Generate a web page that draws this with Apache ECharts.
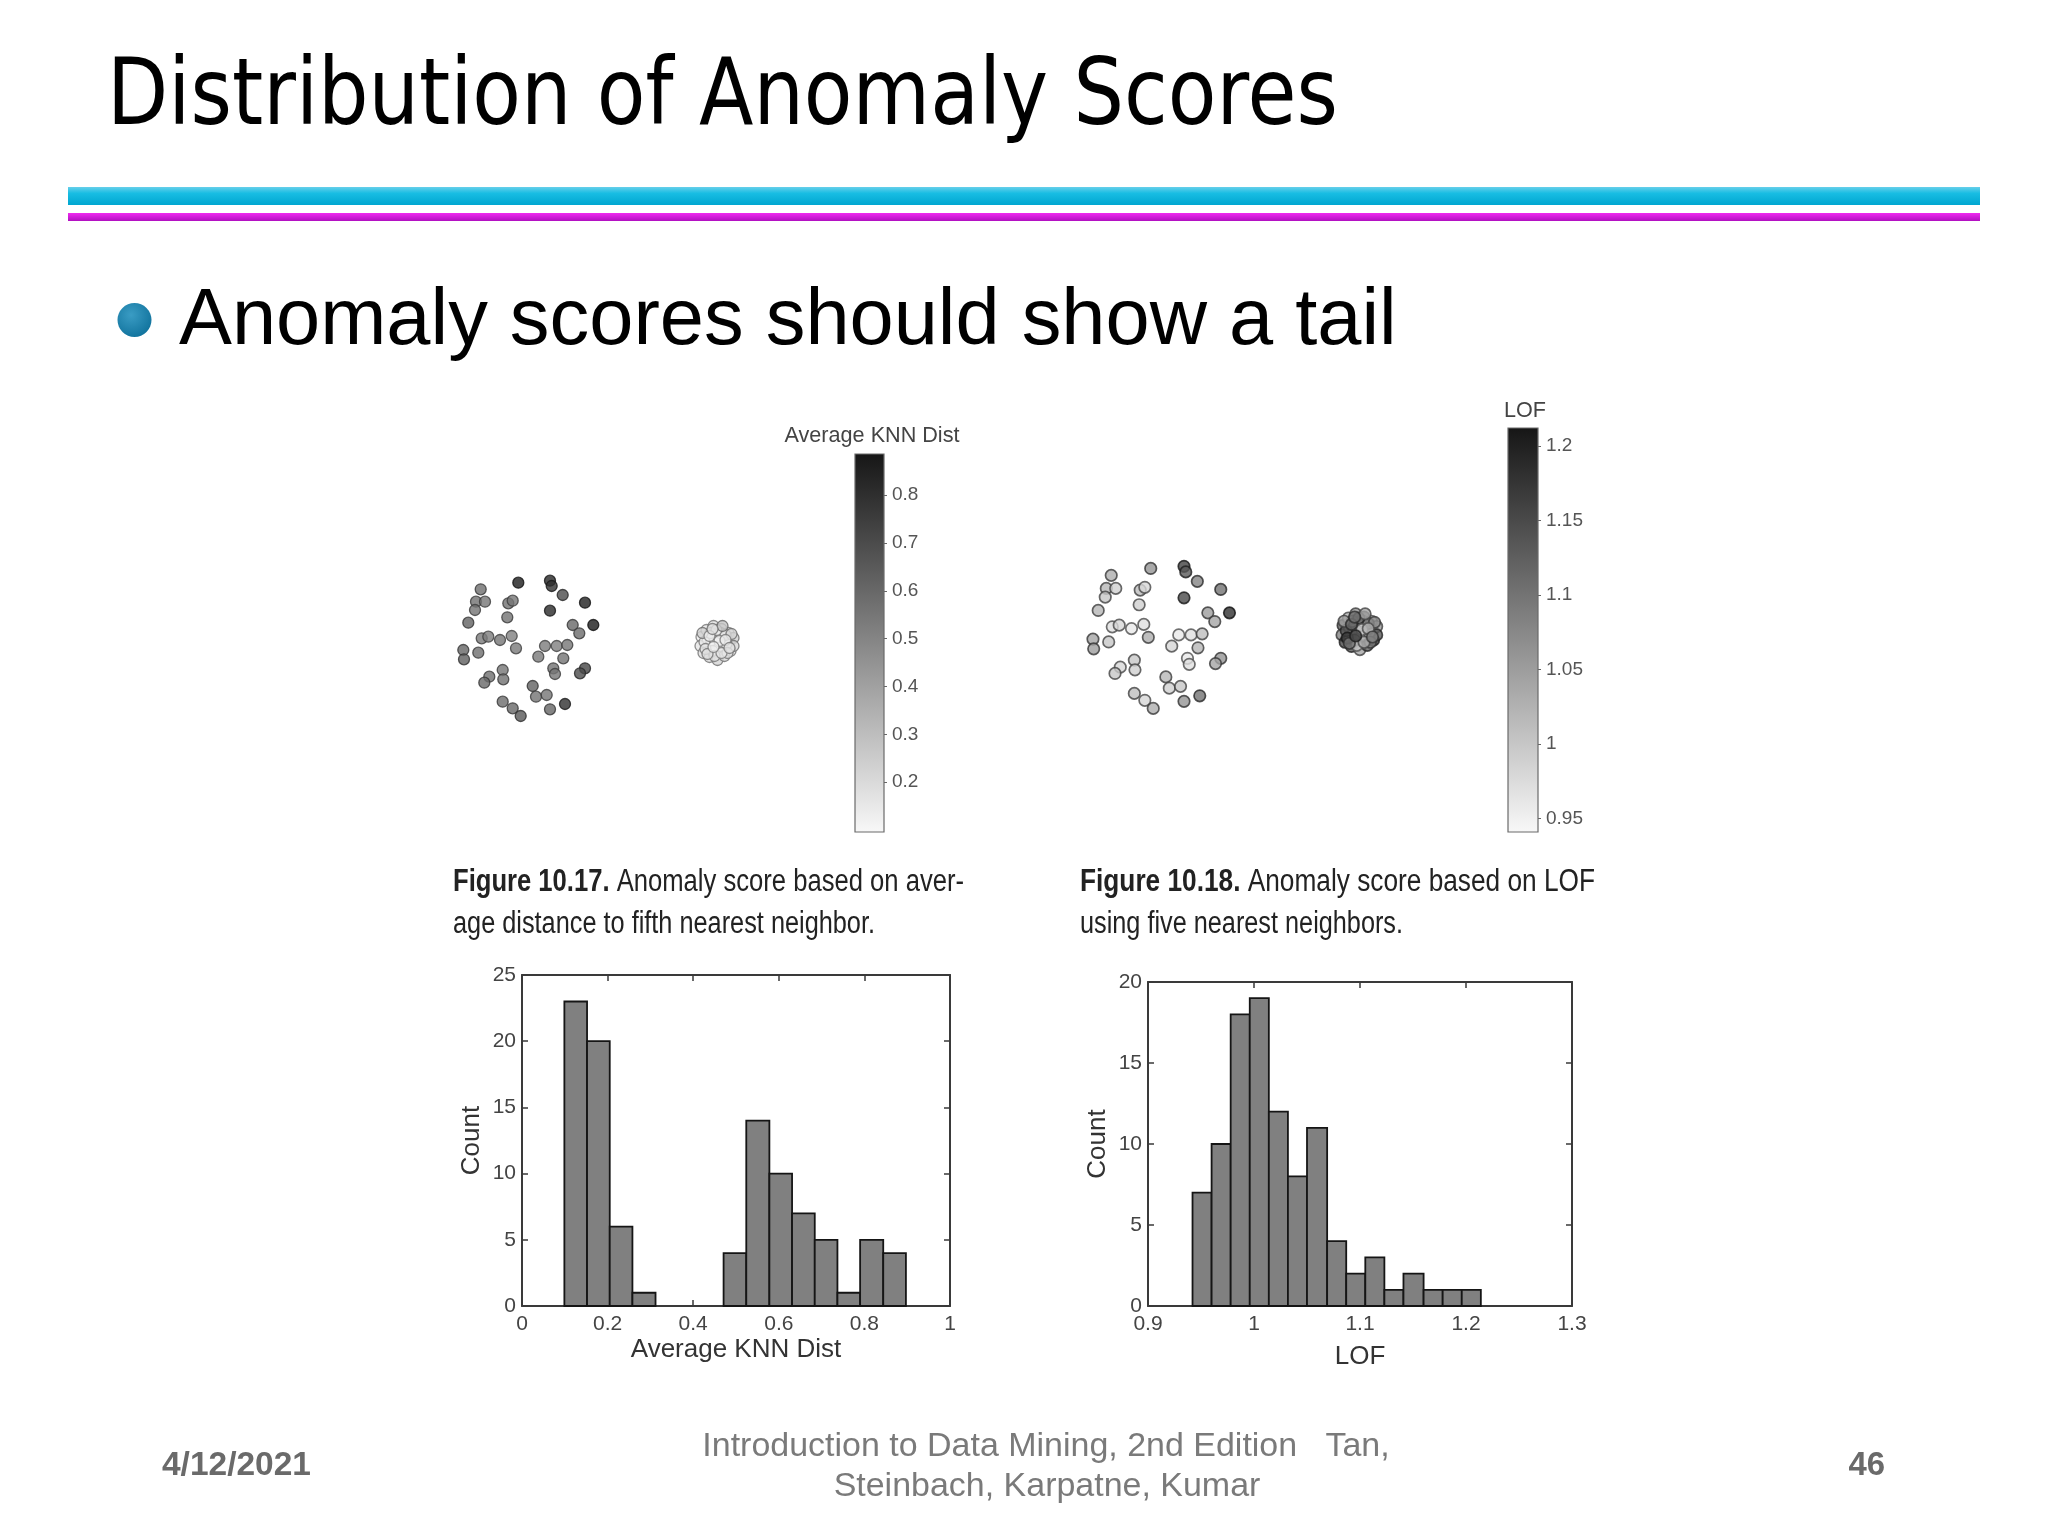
<!DOCTYPE html>
<html><head><meta charset="utf-8">
<script src="https://cdn.jsdelivr.net/npm/echarts@6/dist/echarts.min.js"></script>
<style>html,body{margin:0;padding:0;background:#fff}#c{width:2048px;height:1536px}</style>
</head><body><div id="c"></div>
<script>
// ---------------- DATA ----------------
// sparse cluster points (abstract plot units)
const sparseX = [6.83,10.00,10.17,11.27,13.50,10.00,14.33,3.07,2.60,3.50,2.50,5.83,6.27,5.73,1.83,12.27,12.93,3.17,3.83,5.00,6.17,6.60,1.33,1.40,2.83,9.50,8.83,10.67,11.73,11.33,10.33,10.50,13.50,13.00,5.27,5.33,3.93,3.43,8.27,8.60,9.67,5.27,6.27,7.07,10.00,11.50];
const sparseY = [15.73,15.93,15.40,14.50,13.73,12.93,11.50,15.07,13.83,13.83,13.00,13.67,13.93,12.27,11.73,11.50,10.67,10.17,10.33,10.00,10.40,9.17,9.00,8.07,8.73,9.40,8.33,9.40,9.50,8.17,7.17,6.60,7.17,6.67,7.00,6.07,6.33,5.73,5.40,4.33,4.50,3.83,3.17,2.40,3.07,3.60];
const sparseKnn = [0.86,0.83,0.80,0.70,0.85,0.82,0.87,0.58,0.57,0.55,0.56,0.57,0.55,0.56,0.62,0.60,0.59,0.54,0.53,0.55,0.52,0.54,0.61,0.63,0.58,0.53,0.54,0.52,0.55,0.56,0.57,0.55,0.72,0.70,0.55,0.57,0.58,0.60,0.62,0.56,0.55,0.59,0.60,0.66,0.61,0.80];
const sparseLof = [1.06,1.16,1.13,1.08,1.10,1.15,1.18,1.03,1.02,0.99,1.00,1.01,0.98,0.99,1.02,1.05,1.04,0.97,0.98,0.96,0.97,1.03,1.04,1.05,1.00,0.96,0.98,0.97,1.01,1.02,0.96,0.97,1.06,1.04,1.00,0.99,0.98,1.00,1.02,0.99,1.00,1.01,0.98,1.03,1.06,1.10];
// dense cluster points
const denseX = [25.15,25.05,25.35,25.65,25.75,25.85,25.95,26.35,26.45,26.55,26.65,26.75,27.15,27.25,27.35,27.45,27.85,27.95,28.05,28.35,28.35,26.15,26.95,26.85,26.25,27.65,25.45,27.05,26.05,27.55,26.45,27.75,25.55,27.15,25.75,28.15,26.65,25.25,26.95,26.35,27.55,27.95,25.95,27.25,26.25];
const denseY = [10.3,9.4,8.7,11.0,10.1,9.2,8.3,11.4,10.6,9.7,8.8,8.0,11.1,10.2,9.3,8.4,10.7,9.8,8.9,10.2,9.4,9.9,9.4,10.3,8.9,9.6,9.8,10.7,10.7,10.5,8.4,8.7,9.1,8.7,8.6,10.6,11.0,10.7,9.9,9.3,10.0,9.2,10.4,11.4,11.1];
const denseKnn = [0.13,0.16,0.18,0.15,0.12,0.14,0.19,0.17,0.12,0.11,0.13,0.22,0.15,0.12,0.14,0.20,0.16,0.13,0.18,0.24,0.21,0.12,0.11,0.13,0.15,0.14,0.14,0.13,0.15,0.16,0.17,0.19,0.16,0.15,0.18,0.22,0.14,0.23,0.11,0.12,0.14,0.17,0.13,0.27,0.18];
const denseLof = [1.12,1.08,1.15,1.02,1.10,0.99,1.13,1.06,1.00,1.09,1.14,1.04,1.11,0.98,1.07,1.12,1.01,1.10,1.16,1.05,1.13,1.09,0.97,1.02,1.12,1.08,1.14,0.99,1.06,1.11,1.00,1.09,1.17,1.03,1.10,1.07,1.13,1.05,1.00,1.15,1.02,1.08,1.12,1.04,1.10];

// colorbar ranges and ticks
const knnBarRange = [0.096, 0.886];
const knnBarTicks = [0.2,0.3,0.4,0.5,0.6,0.7,0.8];
const lofBarRange = [0.941, 1.212];
const lofBarTicks = [0.95,1,1.05,1.1,1.15,1.2];

// histograms
const knnEdges = [0.099,0.152,0.205,0.258,0.312,0.365,0.418,0.471,0.524,0.578,0.631,0.684,0.737,0.790,0.844,0.897];
const knnCounts = [23,20,6,1,0,0,0,4,14,10,7,5,1,5,4];
const lofEdges = [0.942,0.960,0.978,0.996,1.014,1.032,1.050,1.069,1.087,1.105,1.123,1.141,1.160,1.178,1.196,1.214];
const lofCounts = [7,10,18,19,12,8,11,4,2,3,1,2,1,1,1];

// texts
const titleText = 'Distribution of Anomaly Scores';
const bulletText = 'Anomaly scores should show a tail';
const cap1a = 'Figure 10.17.', cap1b = ' Anomaly score based on aver-', cap1c = 'age distance to fifth nearest neighbor.';
const cap2a = 'Figure 10.18.', cap2b = ' Anomaly score based on LOF', cap2c = 'using five nearest neighbors.';
const footDate = '4/12/2021', footPage = '46';
const footL1 = 'Introduction to Data Mining, 2nd Edition   Tan,', footL2 = 'Steinbach, Karpatne, Kumar';

// ---------------- HELPERS ----------------
const FF = '"Liberation Sans", Arial, Helvetica, sans-serif';
const TF = '"DejaVu Sans", Verdana, sans-serif';
const cvs = document.createElement('canvas'); const ctx = cvs.getContext('2d');
function tw(text, size, family, weight){ ctx.font = (weight||'normal') + ' ' + size + 'px ' + family; return ctx.measureText(text).width; }
function grayOf(v, r){ let t=(v-r[0])/(r[1]-r[0]); t=Math.max(0,Math.min(1,t)); return Math.round(248 - t*(248-22)); }
function rgb(g){ return 'rgb('+g+','+g+','+g+')'; }
function pts(xs, ys, ss, r, edge){
  return xs.map((x,i)=>{ const g=grayOf(ss[i], r); const b=Math.round(g*edge);
    return {value:[x, ys[i], ss[i]], itemStyle:{color:rgb(g), borderColor:rgb(b)}}; });
}

const axisColor = '#3a3a3a', labelColor = '#444';
function hx(grid, min, max, interval, name, gap, top){
  return {gridIndex:grid, type:'value', min:min, max:max, interval:interval, position: top?'top':'bottom',
    axisLine:{show:true, onZero:false, lineStyle:{color:axisColor, width:2}},
    axisTick:{show:true, inside:true, length:6, lineStyle:{color:axisColor, width:1.5}},
    axisLabel:{show:!top, color:labelColor, fontSize:21, fontFamily:FF, margin:8},
    splitLine:{show:false},
    name: top?'':name, nameLocation:'middle', nameGap:gap,
    nameTextStyle:{color:'#333', fontSize:26, fontFamily:FF}};
}
function hy(grid, min, max, interval, right){
  return {gridIndex:grid, type:'value', min:min, max:max, interval:interval, position: right?'right':'left',
    axisLine:{show:true, onZero:false, lineStyle:{color:axisColor, width:2}},
    axisTick:{show:true, inside:true, length:6, lineStyle:{color:axisColor, width:1.5}},
    axisLabel:{show:!right, color:labelColor, fontSize:21, fontFamily:FF, margin:6},
    splitLine:{show:false},
    name: right?'':'Count', nameLocation:'middle', nameGap:37,
    nameTextStyle:{color:'#333', fontSize:26, fontFamily:FF}};
}
function cbY(grid, range, ticks){
  return {gridIndex:grid, type:'value', min:range[0], max:range[1], position:'right',
    axisLine:{show:false, onZero:false},
    axisTick:{show:true, inside:false, length:3, customValues:ticks, lineStyle:{color:'#666', width:1}},
    axisLabel:{show:true, customValues:ticks, color:'#555', fontSize:19, fontFamily:FF, margin:8},
    splitLine:{show:false}};
}
function histRender(params, api){
  const c = api.value(2); if (!c) return null;
  const p0 = api.coord([api.value(0), c]), p1 = api.coord([api.value(1), 0]);
  return {type:'rect', shape:{x:p0[0], y:p0[1], width:p1[0]-p0[0], height:p1[1]-p0[1]},
    style:{fill:'#808080', stroke:'#151515', lineWidth:1.8}};
}
function barRender(params, api){
  const a = api.coord([0, api.value(1)]), b = api.coord([1, api.value(0)]);
  return {type:'rect', shape:{x:a[0], y:a[1], width:b[0]-a[0], height:b[1]-a[1]},
    style:{fill:{type:'linear', x:0, y:0, x2:0, y2:1, colorStops:[{offset:0, color:rgb(22)},{offset:1, color:rgb(248)}]},
      stroke:'#6a6a6a', lineWidth:1.2}};
}

// text fitting
const titleScale = 1231 / tw(titleText, 92, TF);
const bulletSize = 82 * 1218 / tw(bulletText, 82, FF);
function capScale(a, b, target){ return target / (tw(a, 31, FF, 'bold') + tw(b, 31, FF)); }
const s1 = capScale(cap1a, cap1b, 511), s2 = capScale('', cap1c, 422);
const s3 = capScale(cap2a, cap2b, 515), s4 = capScale('', cap2c, 323);
const footSize = 28 * 427 / tw(footL2, 28, FF);
const dateSize = 30 * 149 / tw(footDate, 30, FF, 'bold');
const pageSize = 30 * 36.6 / tw(footPage, 30, FF, 'bold');
const cbt1 = 21 * 175 / tw('Average KNN Dist', 21, FF);
const cbt2 = 21 * 42 / tw('LOF', 21, FF);

function txt(x, y, text, size, opts){
  opts = opts || {};
  return {type:'text', x:x, y:y, scaleX: opts.scaleX || 1, silent:true, z:10,
    style:{text:text, fontSize:size, fontFamily:opts.family||FF, fontWeight:opts.weight||'normal',
      fill:opts.fill||'#222', align:opts.align||'left', verticalAlign:'middle',
      textAlign:opts.align||'left', textVerticalAlign:'middle', rich:opts.rich}};
}
const capRich = {b:{fontWeight:'bold', fontSize:31, fontFamily:FF, fill:'#222'}};

const option = {
  backgroundColor:'#ffffff',
  animation:false,
  grid:[
    {left:450, top:540, width:320, height:200},
    {left:1079, top:523.6, width:336, height:210},
    {left:855, top:454, width:29, height:378},
    {left:1508, top:428, width:30, height:404},
    {left:522, top:975, width:428, height:331},
    {left:1148, top:982, width:424, height:324}
  ],
  xAxis:[
    {gridIndex:0, type:'value', min:0, max:32, show:false},
    {gridIndex:1, type:'value', min:0, max:32, show:false},
    {gridIndex:2, type:'value', min:0, max:1, show:false},
    {gridIndex:3, type:'value', min:0, max:1, show:false},
    hx(4, 0, 1, 0.2, 'Average KNN Dist', 31, false),
    hx(4, 0, 1, 0.2, '', 0, true),
    hx(5, 0.9, 1.3, 0.1, 'LOF', 38, false),
    hx(5, 0.9, 1.3, 0.1, '', 0, true)
  ],
  yAxis:[
    {gridIndex:0, type:'value', min:0, max:20, show:false},
    {gridIndex:1, type:'value', min:0, max:20, show:false},
    cbY(2, knnBarRange, knnBarTicks),
    cbY(3, lofBarRange, lofBarTicks),
    hy(4, 0, 25, 5, false),
    hy(4, 0, 25, 5, true),
    hy(5, 0, 20, 5, false),
    hy(5, 0, 20, 5, true)
  ],
  series:[
    {type:'scatter', xAxisIndex:0, yAxisIndex:0, symbolSize:11, itemStyle:{borderWidth:1.3},
      data: pts(sparseX, sparseY, sparseKnn, knnBarRange, 0.5).concat(pts(denseX, denseY, denseKnn, knnBarRange, 0.5))},
    {type:'scatter', xAxisIndex:1, yAxisIndex:1, symbolSize:11.5, itemStyle:{borderWidth:1.7},
      data: pts(sparseX, sparseY, sparseLof, lofBarRange, 0.33).concat(pts(denseX, denseY, denseLof, lofBarRange, 0.4))},
    {type:'custom', xAxisIndex:2, yAxisIndex:2, renderItem:barRender, data:[knnBarRange], encode:{x:-1, y:[0,1]}},
    {type:'custom', xAxisIndex:3, yAxisIndex:3, renderItem:barRender, data:[lofBarRange], encode:{x:-1, y:[0,1]}},
    {type:'custom', xAxisIndex:4, yAxisIndex:4, renderItem:histRender, encode:{x:[0,1], y:2},
      data: knnCounts.map((c,i)=>[knnEdges[i], knnEdges[i+1], c])},
    {type:'custom', xAxisIndex:6, yAxisIndex:6, renderItem:histRender, encode:{x:[0,1], y:2},
      data: lofCounts.map((c,i)=>[lofEdges[i], lofEdges[i+1], c])}
  ],
  graphic:[
    {type:'rect', silent:true, shape:{x:68, y:187, width:1912, height:18},
      style:{fill:{type:'linear', x:0, y:0, x2:0, y2:1, colorStops:[{offset:0, color:'#66cfea'},{offset:0.35, color:'#18bde3'},{offset:1, color:'#00a6d0'}]}}},
    {type:'rect', silent:true, shape:{x:68, y:213, width:1912, height:8},
      style:{fill:{type:'linear', x:0, y:0, x2:0, y2:1, colorStops:[{offset:0, color:'#f02af0'},{offset:1, color:'#b010c0'}]}}},
    {type:'circle', silent:true, shape:{cx:134.5, cy:320, r:17},
      style:{fill:{type:'radial', x:0.4, y:0.35, r:0.7, colorStops:[{offset:0, color:'#3a9cc4'},{offset:1, color:'#10729c'}]}}},
    txt(107, 100, titleText, 92, {family:TF, scaleX:titleScale, fill:'#000'}),
    txt(179, 322, bulletText, bulletSize, {fill:'#000'}),
    txt(872, 436, 'Average KNN Dist', cbt1, {align:'center', fill:'#444'}),
    txt(1525, 411, 'LOF', cbt2, {align:'center', fill:'#444'}),
    txt(453, 882, '{b|'+cap1a+'}'+cap1b, 31, {scaleX:s1, rich:capRich}),
    txt(453, 924, cap1c, 31, {scaleX:s2}),
    txt(1080, 882, '{b|'+cap2a+'}'+cap2b, 31, {scaleX:s3, rich:capRich}),
    txt(1080, 924, cap2c, 31, {scaleX:s4}),
    txt(162, 1466, footDate, dateSize, {weight:'bold', fill:'#6a6a6a'}),
    txt(1885, 1466, footPage, pageSize, {weight:'bold', fill:'#6a6a6a', align:'right'}),
    txt(1046, 1447, footL1, footSize, {align:'center', fill:'#7a7a7a'}),
    txt(1047, 1487, footL2, footSize, {align:'center', fill:'#7a7a7a'})
  ]
};
const chart = echarts.init(document.getElementById('c'));
chart.setOption(option);
</script>
</body></html>
